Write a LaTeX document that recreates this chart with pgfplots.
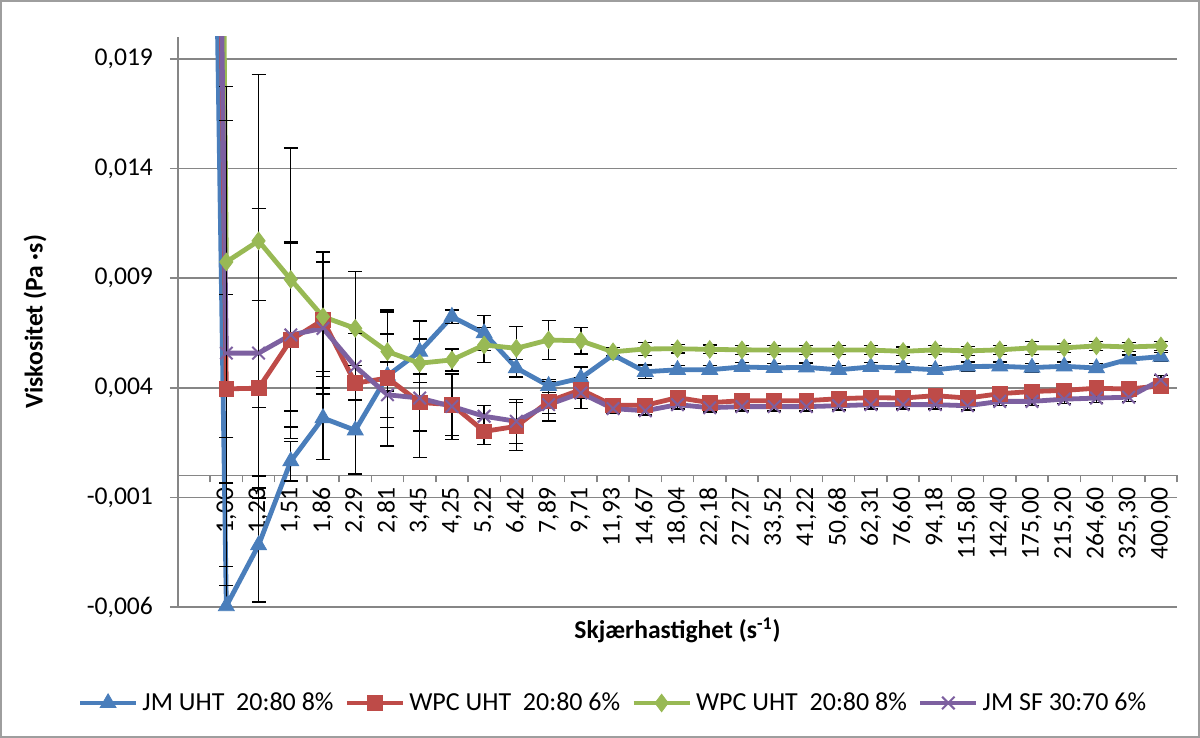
\documentclass[border=0pt]{standalone}
\usepackage{pgfplots}
\pgfplotsset{compat=1.18}
\usepackage{pgfplotstable}
\usepackage{fontspec}
\setmainfont{Carlito}

\definecolor{exblue}{HTML}{4A7EBB}
\definecolor{exred}{HTML}{BE4B48}
\definecolor{exgreen}{HTML}{98B954}
\definecolor{expurple}{HTML}{7D60A0}
\definecolor{axgray}{HTML}{868686}

\pgfplotstableread{
i  blue     berr    red      rerr    green    gerr    purple   perr
0  0.090    0       0.110    0       0.160    0       0.110    0
1  -0.00596 0.0018  0.00395  0.0043  0.00974  0.0080  0.00558  0.0106
2  -0.00318 0.0026  0.00398  0.0040  0.0107   0.0076  0.00558  0.0066
3  0.00065  0.0009  0.00618  0.0045  0.00894  0.0060  0.00641  0.0042
4  0.00262  0.0019  0.00709  0.0031  0.00724  0.0025  0.00671  0.0030
5  0.00206  0.0020  0.00421  0.0008  0.00671  0.0026  0.00497  0.0015
6  0.00455  0.0019  0.00444  0.0031  0.00565  0.0018  0.00368  0.0015
7  0.00565  0.0014  0.00333  0.0013  0.00512  0.0019  0.00353  0.0027
8  0.00724  0.0003  0.00323  0.0014  0.00527  0.0005  0.00315  0.0015
9  0.00649  0.0008  0.00201  0.0006  0.00595  0.0008  0.00270  0.0005
10 0.00490  0.0004  0.00224  0.0011  0.00580  0.0010  0.00247  0.0010
11 0.00409  0.0003  0.00338  0.0009  0.00618  0.0009  0.00323  0.0004
12 0.00444  0.0005  0.00391  0.0004  0.00614  0.0006  0.00376  0.0007
13 0.00550  0.0002  0.00320  0.0002  0.00564  0.0002  0.00305  0.0002
14 0.00473  0.0003  0.00320  0.0002  0.00577  0.0003  0.00295  0.0002
15 0.00482  0.0002  0.00355  0.0002  0.00578  0.0002  0.00323  0.0002
16 0.00482  0.0002  0.00332  0.0002  0.00575  0.0002  0.00309  0.0002
17 0.00495  0.0002  0.00341  0.0002  0.00573  0.0002  0.00314  0.0002
18 0.00491  0.0002  0.00341  0.0002  0.00572  0.0002  0.00314  0.0002
19 0.00493  0.0002  0.00341  0.0002  0.00572  0.0002  0.00314  0.0002
20 0.00482  0.0002  0.00350  0.0002  0.00572  0.0002  0.00318  0.0002
21 0.00495  0.0002  0.00355  0.0002  0.00572  0.0002  0.00323  0.0002
22 0.00490  0.0002  0.00353  0.0002  0.00566  0.0002  0.00323  0.0002
23 0.00482  0.0002  0.00364  0.0002  0.00573  0.0002  0.00323  0.0002
24 0.00497  0.0002  0.00353  0.0002  0.00568  0.0002  0.00318  0.0002
25 0.00498  0.0002  0.00373  0.0002  0.00573  0.0002  0.00338  0.0002
26 0.00492  0.0002  0.00383  0.0002  0.00582  0.0003  0.00338  0.0002
27 0.00498  0.0002  0.00388  0.0002  0.00582  0.0002  0.00348  0.0002
28 0.00490  0.0002  0.00398  0.0002  0.00591  0.0002  0.00353  0.0002
29 0.00530  0.0002  0.00394  0.0002  0.00586  0.0002  0.00357  0.0002
30 0.00542  0.0002  0.00409  0.0002  0.00591  0.0002  0.00436  0.0002
}\datatable

\pgfplotsset{
  myerr/.style={error bars/.cd, y dir=both, y explicit,
    error bar style={black, line width=0.7pt},
    error mark options={rotate=90, black, mark size=3.5pt, line width=0.7pt}},
}

\begin{document}
\begin{tikzpicture}[font=\fontsize{12.8}{15}\selectfont]
\useasboundingbox (0,0) rectangle (600pt,369pt);
\draw[axgray!80, line width=0.75pt] (0.4pt,0.4pt) rectangle (599.6pt,368.6pt);
\begin{axis}[
  at={(89pt,65.5pt)}, anchor=south west,
  width=499.5pt, height=285pt, scale only axis,
  xmin=-0.5, xmax=30.5, ymin=-0.006, ymax=0.020,
  axis y line*=left, axis x line*=middle,
  axis line style={axgray, line width=0.75pt},
  tick align=outside,
  ytick={-0.006,-0.001,0.004,0.009,0.014,0.019},
  yticklabels={{-0,006},{-0,001},{0,004},{0,009},{0,014},{0,019}},
  scaled y ticks=false,
  ymajorgrids, grid style={axgray, line width=0.75pt},
  xtick={0,...,30},
  xticklabels={{},{1,00},{1,23},{1,51},{1,86},{2,29},{2,81},{3,45},{4,25},{5,22},{6,42},{7,89},{9,71},{11,93},{14,67},{18,04},{22,18},{27,27},{33,52},{41,22},{50,68},{62,31},{76,60},{94,18},{115,80},{142,40},{175,00},{215,20},{264,60},{325,30},{400,00}},
  minor xtick={-0.5,0.5,...,30.5},
  major x tick style={draw=none},
  minor x tick style={axgray, line width=0.75pt},
  y tick style={axgray, line width=0.75pt},
  major tick length=4pt, minor tick length=3.5pt,
  xticklabel style={rotate=90, anchor=east, inner sep=2pt},
  yticklabel style={xshift=-5pt},
  xlabel={\textbf{Skjærhastighet (s\textsuperscript{-1})}},
  ylabel={\textbf{Viskositet (Pa ·s)}},
  xlabel style={at={(axis description cs:0.5,-0.0404)}, anchor=center},
  ylabel style={at={(axis description cs:-0.1431,0.5)}, anchor=center, rotate=0},
  clip=true,
  legend style={at={(0.4364,-0.1684)}, anchor=center, draw=none, fill=none,
    legend columns=-1, font=\fontsize{13}{15.5}\selectfont,
    /tikz/every even column/.append style={column sep=3.5pt},
    inner sep=0pt},
  legend cell align=left,
  legend image code/.code={\draw[mark repeat=2,mark phase=2,#1] plot coordinates {(0pt,0pt) (14pt,0pt) (28pt,0pt)};},
]
\addplot[exblue, line width=2.4pt, mark=triangle*, mark size=4.6pt, mark options={line width=0.4pt, fill=exblue}, myerr]
  table[x=i, y=blue, y error=berr] {\datatable};
\addlegendentry{JM UHT~~20:80 8\%}
\addplot[exred, line width=2.4pt, mark=square*, mark size=3.7pt, mark options={line width=0.4pt, fill=exred}, myerr]
  table[x=i, y=red, y error=rerr] {\datatable};
\addlegendentry{WPC UHT~~20:80 6\%}
\addplot[exgreen, line width=2.4pt, mark=diamond*, mark size=4.4pt, mark options={line width=0.4pt, fill=exgreen}, myerr]
  table[x=i, y=green, y error=gerr] {\datatable};
\addlegendentry{WPC UHT~~20:80 8\%}
\addplot[expurple, line width=2.4pt, mark=x, mark size=4.4pt, mark options={line width=1pt}, myerr]
  table[x=i, y=purple, y error=perr] {\datatable};
\addlegendentry{JM SF 30:70 6\%}
\end{axis}
\end{tikzpicture}
\end{document}
